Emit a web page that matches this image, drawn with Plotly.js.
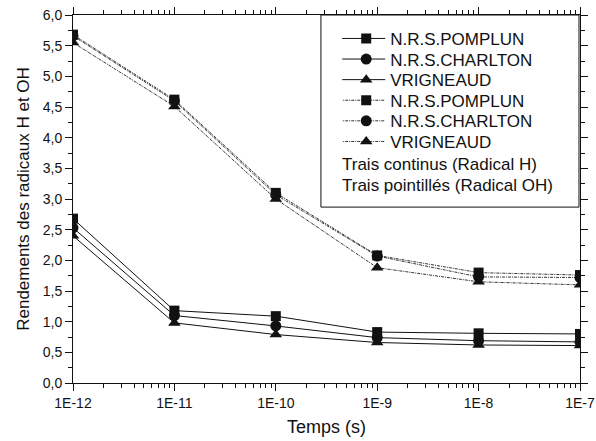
<!DOCTYPE html>
<html>
<head>
<meta charset="utf-8">
<script src="https://cdn.plot.ly/plotly-3.0.1.min.js"></script>
<style>
  html, body { margin: 0; padding: 0; background: #fff; }
  #chart { width: 596px; height: 441px; }
</style>
</head>
<body>
<div id="chart"></div>
<script>
// Time steps (s) and radical yields for each model
const temps = [1e-12, 1e-11, 1e-10, 1e-9, 1e-8, 1e-7];
const tickLabels = ['1E-12', '1E-11', '1E-10', '1E-9', '1E-8', '1E-7'];

// Radical H (solid lines)
const hPomplun   = [2.68, 1.18, 1.09, 0.83, 0.81, 0.80];
const hCharlton  = [2.53, 1.10, 0.93, 0.74, 0.69, 0.67];
const hVrigneaud = [2.40, 0.98, 0.79, 0.66, 0.62, 0.61];

// Radical OH (dotted lines)
const ohPomplun   = [5.68, 4.62, 3.10, 2.08, 1.80, 1.76];
const ohCharlton  = [5.66, 4.60, 3.07, 2.07, 1.73, 1.72];
const ohVrigneaud = [5.55, 4.51, 3.00, 1.88, 1.65, 1.60];

const names = ['N.R.S.POMPLUN', 'N.R.S.CHARLTON', 'VRIGNEAUD'];
const symbols = ['square', 'circle', 'triangle-up'];
const FONT = 'Liberation Sans, Arial, sans-serif';

function serie(y, i, dash) {
  return {
    x: temps, y: y, name: names[i], type: 'scatter', mode: 'lines+markers',
    line: { color: dash ? '#333' : '#111', width: 1, dash: dash ? '3px,1px,1px,1px' : 'solid' },
    marker: { symbol: symbols[i], size: i === 0 ? 10 : 11, color: '#111' }
  };
}

const data = [
  serie(hPomplun, 0, false), serie(hCharlton, 1, false), serie(hVrigneaud, 2, false),
  serie(ohPomplun, 0, true), serie(ohCharlton, 1, true), serie(ohVrigneaud, 2, true)
];

const legendFont = { family: FONT, size: 17, color: '#111' };

const layout = {
  width: 596, height: 441,
  margin: { l: 73, r: 16, t: 15, b: 58 },
  separators: ', ',
  paper_bgcolor: '#fff', plot_bgcolor: '#fff',
  font: { family: FONT, color: '#111', size: 14 },
  showlegend: true,
  legend: {
    x: 0.531, y: 0.984, xanchor: 'left', yanchor: 'top',
    bgcolor: 'rgba(0,0,0,0)', borderwidth: 0,
    font: legendFont, itemwidth: 38,
    tracegroupgap: 0
  },
  xaxis: {
    type: 'log', range: [-12, -7],
    tickvals: temps, ticktext: tickLabels,
    ticks: 'outside', ticklen: 7, tickwidth: 1, tickcolor: '#111',
    minor: { ticks: 'outside', ticklen: 4, tickcolor: '#111', dtick: 'D1' },
    showline: true, linecolor: '#111', linewidth: 1, mirror: 'allticks',
    showgrid: false, zeroline: false,
    tickfont: { size: 14 },
    title: { text: 'Temps (s)', font: { size: 18 }, standoff: 10 }
  },
  yaxis: {
    range: [0, 6], dtick: 0.5, tickformat: '.1f',
    ticks: 'outside', ticklen: 7, tickwidth: 1, tickcolor: '#111',
    minor: { ticks: 'outside', ticklen: 4, tickcolor: '#111', dtick: 0.25 },
    showline: true, linecolor: '#111', linewidth: 1, mirror: 'allticks',
    showgrid: false, zeroline: false,
    tickfont: { size: 14 },
    title: { text: 'Rendements des radicaux H et OH', font: { size: 17 }, standoff: 8 }
  },
  shapes: [{
    type: 'rect', xref: 'paper', yref: 'paper',
    x0: 0.489, x1: 0.998, y0: 0.478, y1: 1,
    line: { color: '#111', width: 1 }, fillcolor: 'rgba(0,0,0,0)'
  }],
  annotations: [
    { text: 'Trais continus (Radical H)', xref: 'paper', yref: 'paper',
      x: 0.527, y: 0.594, xanchor: 'left', yanchor: 'middle', showarrow: false,
      font: legendFont },
    { text: 'Trais pointillés (Radical OH)', xref: 'paper', yref: 'paper',
      x: 0.527, y: 0.537, xanchor: 'left', yanchor: 'middle', showarrow: false,
      font: legendFont }
  ]
};

const gd = document.getElementById('chart');
Plotly.newPlot(gd, data, layout, { displayModeBar: false, staticPlot: true }).then(() => {
  // tighter legend rows and longer line samples
  const rows = gd.querySelectorAll('.legend .traces');
  let y0 = null;
  rows.forEach((g, i) => {
    const m = /translate\(([-\d.]+)[ ,]+([-\d.]+)\)/.exec(g.getAttribute('transform') || '');
    if (!m) return;
    if (y0 === null) y0 = parseFloat(m[2]);
    g.setAttribute('transform', 'translate(' + m[1] + ',' + (y0 + i * 20.6) + ')');
    g.querySelectorAll('path.js-line').forEach(p => p.setAttribute('d', 'M-3,0h46'));
  });
});
</script>
</body>
</html>
